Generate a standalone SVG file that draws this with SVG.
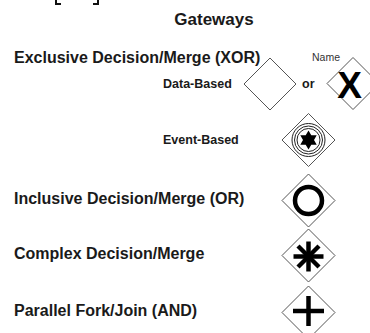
<svg xmlns="http://www.w3.org/2000/svg" width="370" height="333" viewBox="0 0 370 333">
<style>
text{font-family:"Liberation Sans",Arial,sans-serif;font-weight:bold;fill:#1a1a1a}
.t{font-size:16px}
.s{font-size:12.5px}
.n{font-size:10.5px;font-weight:normal;fill:#333}
.d{fill:#fff;stroke:#555;stroke-width:1}
.thin{fill:none;stroke:#222;stroke-width:1}
.thick{fill:none;stroke:#000}
</style>
<rect width="370" height="333" fill="#fff"/>
<g id="bracket" fill="none" stroke="#111" stroke-width="2">
<polyline points="56,0 56,4 61,4"/>
<polyline points="98,0 98,4 93,4"/>
</g>
<g id="labels">
<text x="214" y="25" text-anchor="middle" style="font-size:17px">Gateways</text>
<text class="t" x="14" y="62.5">Exclusive Decision/Merge (XOR)</text>
<text class="s" x="163" y="88">Data-Based</text>
<text class="s" x="302" y="88">or</text>
<text class="n" x="312" y="61">Name</text>
<text class="s" x="163" y="144">Event-Based</text>
<text class="t" x="14" y="204">Inclusive Decision/Merge (OR)</text>
<text class="t" x="14" y="258.5">Complex Decision/Merge</text>
<text class="t" x="14" y="316">Parallel Fork/Join (AND)</text>
</g>
<g id="xor-data">
<polygon class="d" points="270,58 296,84 270,110 244,84"/>
</g>
<g id="xor-marked">
<polygon class="d" points="353,57.5 379,83.5 353,109.5 327,83.5"/>
<text x="349.5" y="97.5" text-anchor="middle" style="font-size:37px;fill:#000">X</text>
</g>
<g id="event-based">
<polygon class="d" points="308.5,113.5 335,140 308.5,166.5 282,140"/>
<circle class="thin" cx="308.5" cy="140" r="16.5"/>
<circle class="thin" cx="308.5" cy="140" r="14"/>
<circle class="thin" cx="308.5" cy="140" r="11.5"/>
<polygon fill="#000" points="308.5,130.5 311.3,135.2 316.7,135.3 314,140 316.7,144.7 311.3,144.8 308.5,149.5 305.7,144.8 300.3,144.7 303,140 300.3,135.3 305.7,135.2"/>
</g>
<g id="inclusive">
<polygon class="d" points="308.5,174 335,200.5 308.5,227 282,200.5"/>
<circle class="thick" cx="308.5" cy="200.5" r="13.5" stroke-width="4.5"/>
</g>
<g id="complex">
<polygon class="d" points="308.5,229 335,255.5 308.5,282 282,255.5"/>
<g class="thick" stroke-width="4.5">
<line x1="308.5" y1="241.5" x2="308.5" y2="271.5"/>
<line x1="293.5" y1="256.5" x2="323.5" y2="256.5"/>
<line x1="298" y1="246" x2="319" y2="267"/>
<line x1="319" y1="246" x2="298" y2="267"/>
</g>
</g>
<g id="parallel">
<polygon class="d" points="308.5,286 335,312.5 308.5,339 282,312.5"/>
<g class="thick" stroke-width="4.5">
<line x1="308.5" y1="296" x2="308.5" y2="326"/>
<line x1="293" y1="311" x2="324" y2="311"/>
</g>
</g>
</svg>
